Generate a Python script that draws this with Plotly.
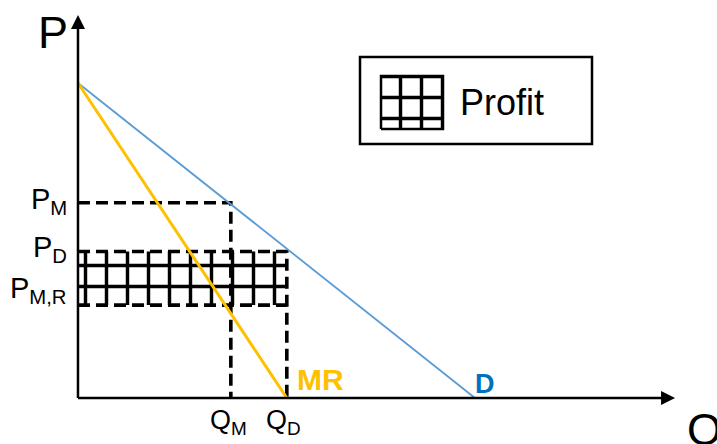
import plotly.graph_objects as go

# ---------------- data (economic units) ----------------
P_INTERCEPT = 100.0      # price intercept shared by demand and MR
Q_D_INTERCEPT = 100.0    # demand curve quantity intercept
Q_MR_INTERCEPT = 52.6    # marginal revenue quantity intercept
Q_NAMES = ["Q<sub>M</sub>", "Q<sub>D</sub>"]
Q_VALUES = [38.5, 52.6]
P_NAMES = ["P<sub>M</sub>", "P<sub>D</sub>", "P<sub>M,R</sub>"]
P_VALUES = [62.0, 46.5, 29.5]

QM, QD = Q_VALUES
PM, PD, PMR = P_VALUES

# ---------------- layout geometry ----------------
W, H = 717, 444
ML, MT = 12, 3
X_RANGE = [-16.62, 160.96]
Y_RANGE = [-14.6, 125.4]
XS = (W - ML) / (X_RANGE[1] - X_RANGE[0])
YS = (H - MT) / (Y_RANGE[1] - Y_RANGE[0])
AXIS_Q_MAX = 150.4
AXIS_P_MAX = 121.6


def px_x(px):
    return X_RANGE[0] + (px - ML) / XS


def px_y(py):
    return Y_RANGE[1] - (py - MT) / YS


def paper_x(px):
    return (px - ML) / (W - ML)


def paper_y(py):
    return 1 - (py - MT) / (H - MT)


FONT = "Liberation Sans, Arial, sans-serif"
GOLD = "#FFC000"
BLUE_LINE = "#5B9BD5"
BLUE_TEXT = "#0070C0"
PATTERN = dict(shape="+", size=21, solidity=0.3, fgcolor="black",
               bgcolor="rgba(0,0,0,0)", fgopacity=1)
DASH = dict(color="black", width=3.6, dash="12px,6px")

fig = go.Figure()

# profit rectangle (hatched)
fig.add_trace(go.Scatter(
    x=[0, QD, QD, 0, 0], y=[PMR, PMR, PD, PD, PMR],
    mode="none", fill="toself", fillcolor="rgba(0,0,0,0)",
    fillpattern=PATTERN, hoverinfo="skip"))

# dashed guide lines
fig.add_trace(go.Scatter(x=[0, QM, QM], y=[PM, PM, 0], mode="lines", line=DASH))
fig.add_trace(go.Scatter(x=[0, QD, QD], y=[PD, PD, 0], mode="lines", line=DASH))
fig.add_trace(go.Scatter(x=[0, QD], y=[PMR, PMR], mode="lines", line=DASH))

# demand and MR
fig.add_trace(go.Scatter(x=[0, Q_D_INTERCEPT], y=[P_INTERCEPT, 0], mode="lines",
                         line=dict(color=BLUE_LINE, width=1.8)))
fig.add_trace(go.Scatter(x=[0, Q_MR_INTERCEPT], y=[P_INTERCEPT, 0], mode="lines",
                         line=dict(color=GOLD, width=3)))

# axes
fig.add_trace(go.Scatter(x=[0, 0], y=[0, AXIS_P_MAX - 3], mode="lines",
                         line=dict(color="black", width=2.5)))
fig.add_trace(go.Scatter(x=[0, AXIS_Q_MAX - 3], y=[0, 0], mode="lines",
                         line=dict(color="black", width=2.5)))
fig.add_trace(go.Scatter(x=[0, AXIS_Q_MAX], y=[AXIS_P_MAX, 0], mode="markers",
                         marker=dict(symbol=["arrow-up", "arrow-right"], size=14,
                                     color="black", line=dict(width=0)),
                         cliponaxis=False))

# legend icon
ix0, ix1 = px_x(381), px_x(443)
iy0, iy1 = px_y(129), px_y(76)
fig.add_trace(go.Scatter(
    x=[ix0, ix1, ix1, ix0, ix0], y=[iy0, iy0, iy1, iy1, iy0],
    mode="lines", fill="toself", fillcolor="rgba(0,0,0,0)",
    fillpattern=PATTERN, line=dict(color="black", width=2.5)))

shapes = [dict(type="rect", xref="paper", yref="paper",
               x0=paper_x(360), x1=paper_x(592), y0=paper_y(144), y1=paper_y(57),
               line=dict(color="black", width=2.5), fillcolor="rgba(0,0,0,0)")]

ann = []
ann.append(dict(text="Profit", x=paper_x(458), y=paper_y(102), xref="paper", yref="paper",
                xanchor="left", yanchor="middle", showarrow=False,
                font=dict(size=36, color="black", family=FONT)))
# price labels
p_shift = [2, 3, 15]
for name, val, sh in zip(P_NAMES, P_VALUES, p_shift):
    ann.append(dict(text=name, x=0, y=val, xanchor="right", yanchor="middle",
                    xshift=-9, yshift=sh, showarrow=False,
                    font=dict(size=29, color="black", family=FONT)))
# quantity labels
q_xshift = [-2, -3]
for name, val, sh in zip(Q_NAMES, Q_VALUES, q_xshift):
    ann.append(dict(text=name, x=val, y=0, xanchor="center", yanchor="top",
                    xshift=sh, yshift=-5, showarrow=False,
                    font=dict(size=27, color="black", family=FONT)))
# curve labels
ann.append(dict(text="<b>MR</b>", x=Q_MR_INTERCEPT, y=0, xanchor="left", yanchor="bottom",
                xshift=8, yshift=0, showarrow=False,
                font=dict(size=30, color=GOLD, family=FONT)))
ann.append(dict(text="<b>D</b>", x=Q_D_INTERCEPT, y=0, xanchor="left", yanchor="bottom",
                xshift=-2, yshift=-3, showarrow=False,
                font=dict(size=27, color=BLUE_TEXT, family=FONT)))
# axis titles
ann.append(dict(text="P", x=0, y=AXIS_P_MAX, xanchor="right", yanchor="top",
                xshift=-8, yshift=10, showarrow=False,
                font=dict(size=45, color="black", family=FONT)))
ann.append(dict(text="Q", x=AXIS_Q_MAX, y=0, xanchor="left", yanchor="top",
                xshift=10, yshift=-4, showarrow=False,
                font=dict(size=45, color="black", family=FONT)))

fig.update_layout(
    width=W, height=H, autosize=False,
    margin=dict(l=ML, r=0, t=MT, b=0, pad=0),
    paper_bgcolor="white", plot_bgcolor="white",
    showlegend=False,
    xaxis=dict(range=X_RANGE, visible=False, fixedrange=True),
    yaxis=dict(range=Y_RANGE, visible=False, fixedrange=True),
    shapes=shapes, annotations=ann,
)

fig.write_html("out.html", config=dict(displayModeBar=False),
               post_script="document.body.style.margin='0';document.body.style.padding='0';")
